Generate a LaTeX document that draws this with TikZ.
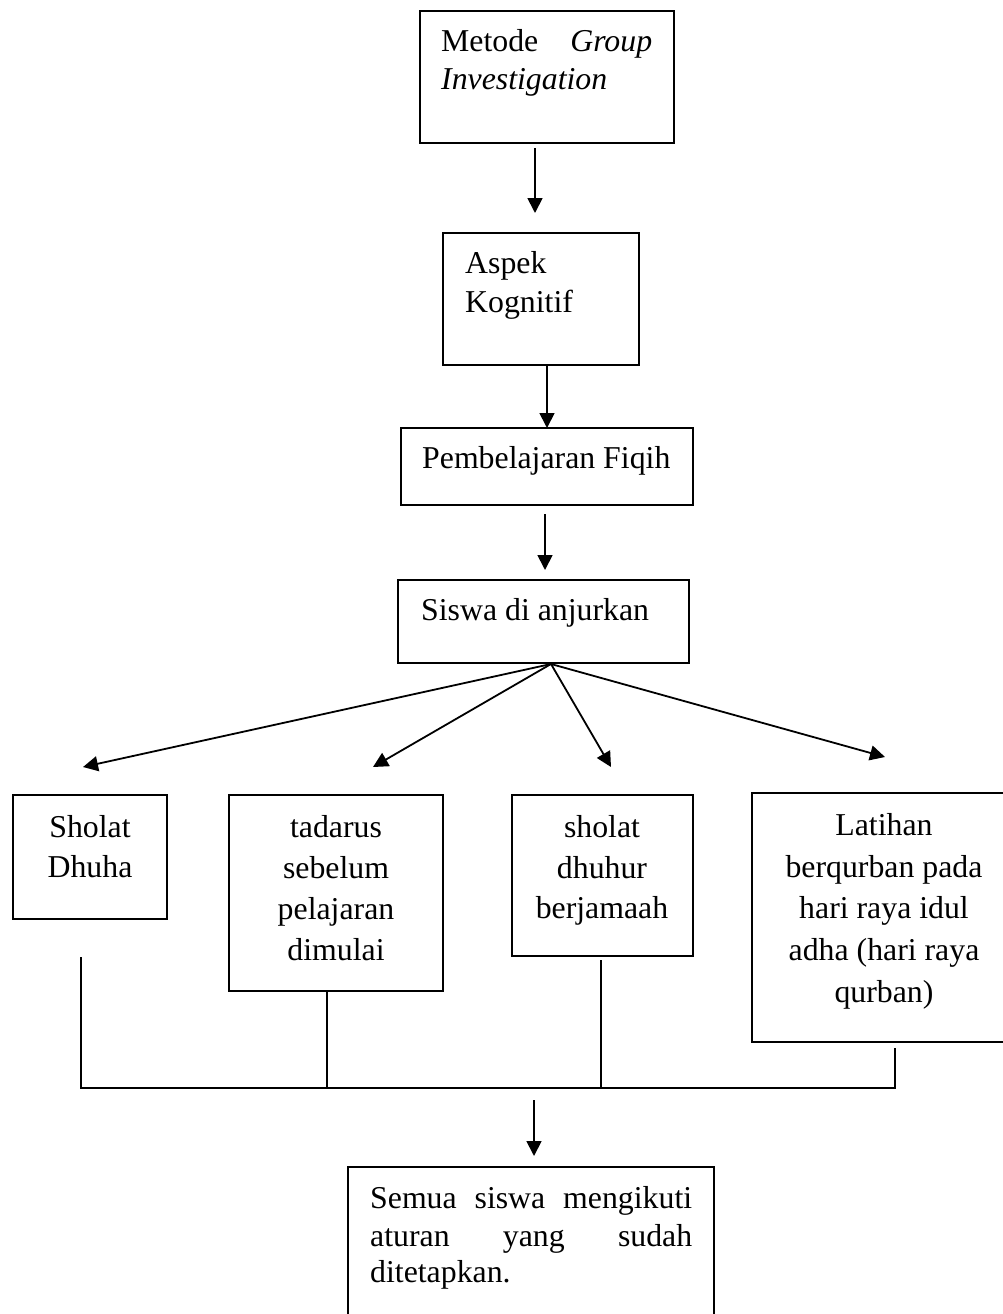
\documentclass[tikz,border=0pt]{standalone}
\usepackage{fontspec}
\setmainfont{Liberation Serif}
\usetikzlibrary{arrows.meta}
\begin{document}
\begin{tikzpicture}[x=1pt,y=-1pt,
  box/.style={draw, line width=1.8pt, inner sep=0pt, outer sep=0pt, anchor=north west},
  lbl/.style={inner sep=0pt, anchor=base west, font=\fontsize{31.8}{38}\selectfont},
  clbl/.style={inner sep=0pt, anchor=base, font=\fontsize{31.8}{38}\selectfont},
  arr/.style={line width=1.8pt, -{Triangle[length=15pt,width=15pt]}},
  ln/.style={line width=1.6pt}]
\useasboundingbox (0,0) rectangle (1003,1314);
\clip (0,0) rectangle (1003,1314);

% boxes
\node[box, minimum width=254pt, minimum height=132pt] (b1) at (420,11) {};
\node[box, minimum width=196pt, minimum height=132pt] (b2) at (443,233) {};
\node[box, minimum width=292pt, minimum height=77pt] (b3) at (401,428) {};
\node[box, minimum width=291pt, minimum height=83pt] (b4) at (398,580) {};
\node[box, minimum width=154pt, minimum height=124pt] (s1) at (13,795) {};
\node[box, minimum width=214pt, minimum height=196pt] (s2) at (229,795) {};
\node[box, minimum width=181pt, minimum height=161pt] (s3) at (512,795) {};
\node[box, minimum width=264pt, minimum height=249pt] (s4) at (752,793) {};
\node[box, minimum width=366pt, minimum height=200pt] (fin) at (348,1167) {};

% texts
\node[lbl] (t1a) at (441,52) {\makebox[211pt][s]{Metode \textit{Group}}};
\node[lbl] (t1b) at (441,89) {\textit{Investigation}};
\node[lbl] (t2a) at (465,273) {Aspek};
\node[lbl] (t2b) at (465,312) {Kognitif};
\node[lbl] (t3) at (422,468) {Pembelajaran Fiqih};
\node[lbl] (t4) at (421,620) {Siswa di anjurkan};

\node[clbl] (s1a) at (90,837) {Sholat};
\node[clbl] (s1b) at (90,877) {Dhuha};

\node[clbl] (s2a) at (336,837) {tadarus};
\node[clbl] (s2b) at (336,878) {sebelum};
\node[clbl] (s2c) at (336,919) {pelajaran};
\node[clbl] (s2d) at (336,960) {dimulai};

\node[clbl] (s3a) at (602,837) {sholat};
\node[clbl] (s3b) at (602,878) {dhuhur};
\node[clbl] (s3c) at (602,918) {berjamaah};

\node[clbl] (s4a) at (884,835) {Latihan};
\node[clbl] (s4b) at (884,877) {berqurban pada};
\node[clbl] (s4c) at (884,918) {hari raya idul};
\node[clbl] (s4d) at (884,960) {adha (hari raya};
\node[clbl] (s4e) at (884,1002) {qurban)};

\node[lbl] (f1) at (370,1208) {\makebox[322pt][s]{Semua siswa mengikuti}};
\node[lbl] (f2) at (370,1246) {\makebox[322pt][s]{aturan yang sudah}};
\node[lbl] (f3) at (370,1282) {ditetapkan.};

% coordinates
\coordinate (a1s) at (535,148);
\coordinate (a1e) at (535,213);
\coordinate (a3s) at (545,514);
\coordinate (a3e) at (545,570);
\coordinate (hub) at (551,664);
\coordinate (d1) at (83,767);
\coordinate (d2) at (373,767);
\coordinate (d3) at (611,767);
\coordinate (d4) at (885,757);
\coordinate (v1t) at (81,957);
\coordinate (v1b) at (81,1088);
\coordinate (v2t) at (327,991);
\coordinate (v2b) at (327,1088);
\coordinate (v3t) at (601,960);
\coordinate (v3b) at (601,1088);
\coordinate (v4t) at (895,1048);
\coordinate (v4b) at (895,1088);
\coordinate (a5s) at (534,1100);
\coordinate (a5e) at (534,1156);

% connectors
\draw[arr] (a1s) -- (a1e);
\draw[arr] (b2.south -| b3.north) -- (b3.north);
\draw[arr] (a3s) -- (a3e);
\draw[arr] (hub) -- (d1);
\draw[arr] (hub) -- (d2);
\draw[arr] (hub) -- (d3);
\draw[arr] (hub) -- (d4);
\draw[ln] (v1t) -- (v1b) -- (v4b) -- (v4t);
\draw[ln] (v2t) -- (v2b);
\draw[ln] (v3t) -- (v3b);
\draw[arr] (a5s) -- (a5e);
\end{tikzpicture}
\end{document}
